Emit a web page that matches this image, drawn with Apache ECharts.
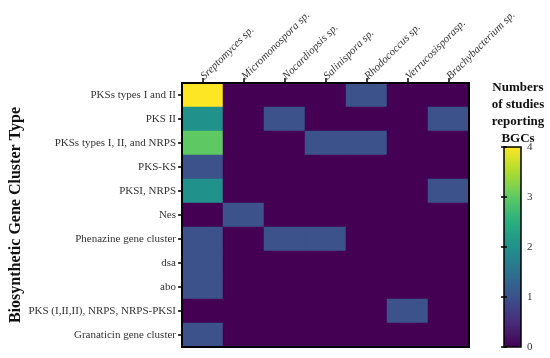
<!DOCTYPE html>
<html>
<head>
<meta charset="utf-8">
<script src="https://cdn.jsdelivr.net/npm/echarts@6/dist/echarts.min.js"></script>
<style>html,body{margin:0;padding:0;background:#fff}#c{width:550px;height:358px}</style>
</head>
<body>
<div id="c"></div>
<script>
const genera = ['Sreptomyces sp.', 'Micromonospora sp.', 'Nocardiopsis sp.', 'Salinispora sp.', 'Rhodococcus sp.', 'Verrucosisporasp.', 'Brachybacterium sp.'];
const clusterTypes = ['PKSs types I and II', 'PKS II', 'PKSs types I, II, and NRPS', 'PKS-KS', 'PKSI, NRPS', 'Nes', 'Phenazine gene cluster', 'dsa', 'abo', 'PKS (I,II,II), NRPS, NRPS-PKSI', 'Granaticin gene cluster'];
// rows = cluster types, columns = genera
const counts = [
  [4, 0, 0, 0, 1, 0, 0],
  [2, 0, 1, 0, 0, 0, 1],
  [3, 0, 0, 1, 1, 0, 0],
  [1, 0, 0, 0, 0, 0, 0],
  [2, 0, 0, 0, 0, 0, 1],
  [0, 1, 0, 0, 0, 0, 0],
  [1, 0, 1, 1, 0, 0, 0],
  [1, 0, 0, 0, 0, 0, 0],
  [1, 0, 0, 0, 0, 0, 0],
  [0, 0, 0, 0, 0, 1, 0],
  [1, 0, 0, 0, 0, 0, 0]
];
const colorTicks = [0, 1, 2, 3, 4];
const viridis = ['#440154', '#472d7b', '#3b528b', '#2c728e', '#21918c', '#28ae80', '#5ec962', '#addc30', '#fde725'];

const data = [];
counts.forEach((row, r) => row.forEach((v, c) => data.push([c, r, v])));

const serif = 'Liberation Serif';
const chart = echarts.init(document.getElementById('c'));
chart.setOption({
  animation: false,
  textStyle: { fontFamily: serif },
  title: {
    text: 'Numbers\nof studies\nreporting\nBGCs',
    left: 513, top: 74, textAlign: 'center',
    textStyle: { fontFamily: serif, fontSize: 13, fontWeight: 'bold', color: '#111', lineHeight: 17 }
  },
  grid: [
    { left: 182, top: 83, width: 287, height: 264, show: true, borderColor: '#000', borderWidth: 2, z: 3, outerBoundsMode: 'none', containLabel: false },
    { left: 504, top: 147, width: 17, height: 200, show: true, borderColor: '#000', borderWidth: 1.5, z: 10, outerBoundsMode: 'none', containLabel: false }
  ],
  xAxis: [
    {
      type: 'category', data: genera, position: 'top', gridIndex: 0,
      axisLine: { show: true, lineStyle: { color: '#000', width: 2 } },
      axisTick: { show: true, alignWithLabel: true, length: 5, lineStyle: { color: '#000', width: 1.5 } },
      axisLabel: { rotate: -45, fontSize: 11, fontStyle: 'italic', color: '#333', margin: 5, fontFamily: serif },
      splitLine: { show: false }
    },
    { type: 'value', gridIndex: 1, show: false, min: 0, max: 1 }
  ],
  yAxis: [
    {
      type: 'category', data: clusterTypes, inverse: true, gridIndex: 0,
      name: 'Biosynthetic Gene Cluster Type', nameLocation: 'middle', nameRotate: 90, nameGap: 158,
      nameMoveOverlap: false,
      nameTextStyle: { fontFamily: serif, fontSize: 16, fontWeight: 'bold', color: '#111' },
      axisLine: { show: true, lineStyle: { color: '#000', width: 2 } },
      axisTick: { show: true, alignWithLabel: true, length: 4, lineStyle: { color: '#000', width: 1.5 } },
      axisLabel: { fontSize: 11, color: '#333', margin: 6, fontFamily: serif },
      splitLine: { show: false }
    },
    {
      type: 'value', gridIndex: 1, position: 'right', min: 0, max: 4, interval: 1, z: 10,
      axisLine: { show: false },
      axisTick: { show: true, inside: true, length: 3, lineStyle: { color: '#000', width: 1.5 } },
      axisLabel: { show: true, fontSize: 11, color: '#333', margin: 6, fontFamily: serif,
        formatter: v => colorTicks.includes(v) ? String(v) : '' },
      splitLine: { show: false }
    },
    {
      type: 'value', gridIndex: 1, position: 'left', min: 0, max: 4, interval: 1, z: 10,
      axisLine: { show: false },
      axisTick: { show: true, inside: true, length: 3, lineStyle: { color: '#000', width: 1.5 } },
      axisLabel: { show: false },
      splitLine: { show: false }
    }
  ],
  visualMap: {
    type: 'continuous', min: 0, max: 4, seriesIndex: 0,
    left: 504, top: 147, itemWidth: 17, itemHeight: 200, padding: 0,
    calculable: false, text: null, showLabel: false,
    inRange: { color: viridis }
  },
  series: [{
    type: 'heatmap', xAxisIndex: 0, yAxisIndex: 0, data: data,
    itemStyle: { borderWidth: 0 },
    emphasis: { disabled: true }
  }]
});
</script>
</body>
</html>
